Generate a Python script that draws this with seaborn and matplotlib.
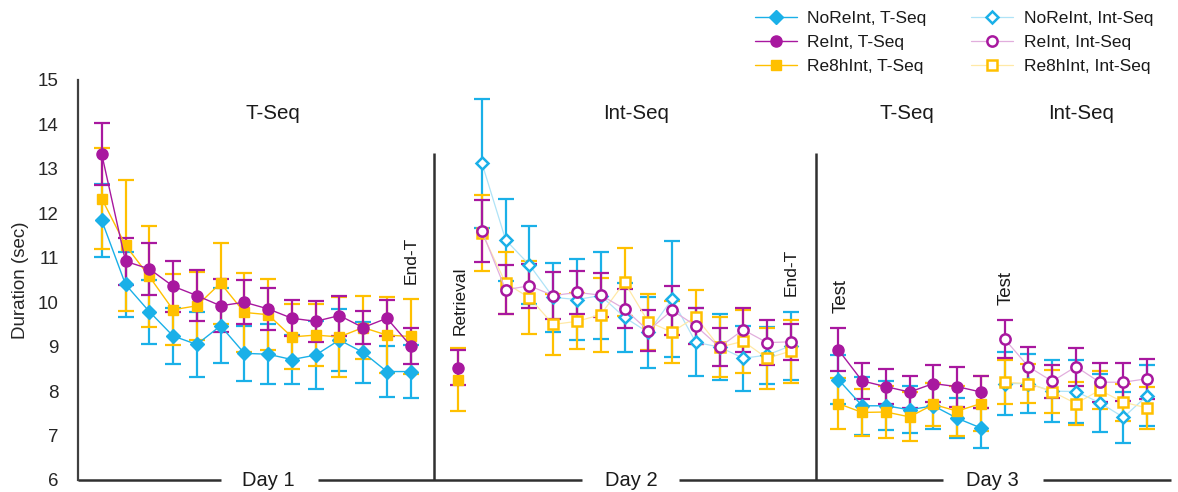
import numpy as np
import pandas as pd
import matplotlib
matplotlib.use("Agg")
import matplotlib.pyplot as plt
import seaborn as sns
from matplotlib.lines import Line2D
from matplotlib.colors import to_rgb

# ---------------- data ----------------
groups = ["NoReInt", "ReInt", "Re8hInt"]

# Day 1, T-Seq (14 trials)
d1_noreint = [11.84, 10.40, 9.79, 9.24, 9.05, 9.47, 8.85, 8.83, 8.71, 8.81, 9.15, 8.87, 8.44, 8.44]
d1_noreint_err = [0.83, 0.74, 0.72, 0.63, 0.73, 0.84, 0.62, 0.68, 0.56, 0.76, 0.70, 0.68, 0.58, 0.59]
d1_reint = [13.33, 10.92, 10.75, 10.36, 10.15, 9.92, 10.00, 9.85, 9.64, 9.57, 9.70, 9.43, 9.64, 9.02]
d1_reint_err = [0.70, 0.53, 0.58, 0.57, 0.58, 0.60, 0.50, 0.47, 0.41, 0.46, 0.45, 0.37, 0.41, 0.41]
d1_re8h = [12.33, 11.28, 10.58, 9.83, 9.92, 10.43, 9.77, 9.72, 9.22, 9.26, 9.22, 9.43, 9.26, 9.23]
d1_re8h_err = [1.14, 1.47, 1.13, 0.80, 0.77, 0.91, 0.88, 0.80, 0.73, 0.70, 0.90, 0.70, 0.85, 0.84]

# Day 2, Retrieval (single trial)
ret_reint = [8.53]
ret_reint_err = [0.40]
ret_re8h = [8.26]
ret_re8h_err = [0.71]

# Day 2, Int-Seq (14 trials)
d2_noreint = [13.13, 11.40, 10.84, 10.11, 10.06, 10.15, 9.66, 9.32, 10.07, 9.10, 8.99, 8.74, 8.81, 9.02]
d2_noreint_err = [1.45, 0.93, 0.88, 0.77, 0.91, 0.97, 0.77, 0.79, 1.30, 0.76, 0.74, 0.73, 0.64, 0.77]
d2_reint = [11.60, 10.28, 10.37, 10.15, 10.22, 10.16, 9.85, 9.36, 9.82, 9.47, 8.99, 9.38, 9.09, 9.11]
d2_reint_err = [0.70, 0.55, 0.50, 0.53, 0.49, 0.49, 0.44, 0.46, 0.55, 0.41, 0.42, 0.49, 0.50, 0.41]
d2_re8h = [11.56, 10.43, 10.10, 9.50, 9.57, 9.72, 10.45, 9.56, 9.33, 9.67, 8.99, 9.12, 8.74, 8.90]
d2_re8h_err = [0.86, 0.70, 0.82, 0.69, 0.63, 0.83, 0.77, 0.63, 0.69, 0.61, 0.67, 0.71, 0.69, 0.71]

# Day 3, T-Seq test (7 trials)
d3t_noreint = [8.26, 7.67, 7.67, 7.58, 7.67, 7.39, 7.17]
d3t_noreint_err = [0.55, 0.65, 0.55, 0.53, 0.52, 0.45, 0.44]
d3t_reint = [8.93, 8.23, 8.10, 7.98, 8.17, 8.10, 7.98]
d3t_reint_err = [0.48, 0.40, 0.40, 0.37, 0.42, 0.45, 0.37]
d3t_re8h = [7.72, 7.52, 7.53, 7.42, 7.70, 7.55, 7.72]
d3t_re8h_err = [0.57, 0.53, 0.59, 0.55, 0.49, 0.57, 0.62]

# Day 3, Int-Seq test (7 trials)
d3i_noreint = [8.17, 8.17, 8.00, 7.99, 7.74, 7.41, 7.90]
d3i_noreint_err = [0.70, 0.66, 0.69, 0.70, 0.65, 0.58, 0.68]
d3i_reint = [9.17, 8.55, 8.22, 8.55, 8.20, 8.20, 8.28]
d3i_reint_err = [0.43, 0.44, 0.37, 0.43, 0.44, 0.43, 0.45]
d3i_re8h = [8.20, 8.17, 7.99, 7.72, 8.02, 7.75, 7.62]
d3i_re8h_err = [0.50, 0.43, 0.48, 0.49, 0.43, 0.42, 0.47]

ytick_labels = ["6", "7", "8", "9", "10", "11", "12", "13", "14", "15"]
day_labels = ["Day 1", "Day 2", "Day 3"]
phase_labels = ["T-Seq", "Int-Seq", "T-Seq", "Int-Seq"]

# ---------------- layout (positions on a running trial axis) ----------------
day1_x = np.arange(0, 14)
ret_x = np.array([15])
day2_x = np.arange(16, 30)
day3t_x = np.arange(31, 38)
day3i_x = np.arange(38, 45)

colors = {"NoReInt": "#1AB0E8", "ReInt": "#A8189F", "Re8hInt": "#FFC000"}
markers = {"NoReInt": "D", "ReInt": "o", "Re8hInt": "s"}
msize = {"NoReInt": 7.0, "ReInt": 8, "Re8hInt": 7.8}


def light(c, f=0.35):
    r, g, b = to_rgb(c)
    return (1 - f + f * r, 1 - f + f * g, 1 - f + f * b)


segments = [
    (day1_x, True, {"NoReInt": (d1_noreint, d1_noreint_err),
                    "Re8hInt": (d1_re8h, d1_re8h_err),
                    "ReInt": (d1_reint, d1_reint_err)}),
    (ret_x, True, {"Re8hInt": (ret_re8h, ret_re8h_err),
                   "ReInt": (ret_reint, ret_reint_err)}),
    (day2_x, False, {"NoReInt": (d2_noreint, d2_noreint_err),
                     "Re8hInt": (d2_re8h, d2_re8h_err),
                     "ReInt": (d2_reint, d2_reint_err)}),
    (day3t_x, True, {"NoReInt": (d3t_noreint, d3t_noreint_err),
                     "Re8hInt": (d3t_re8h, d3t_re8h_err),
                     "ReInt": (d3t_reint, d3t_reint_err)}),
    (day3i_x, False, {"NoReInt": (d3i_noreint, d3i_noreint_err),
                      "Re8hInt": (d3i_re8h, d3i_re8h_err),
                      "ReInt": (d3i_reint, d3i_reint_err)}),
]

# ---------------- style ----------------
sns.set_theme(style="white")
plt.rcParams["font.family"] = ["Liberation Sans", "DejaVu Sans"]
plt.rcParams["text.color"] = "#1a1a1a"

fig = plt.figure(figsize=(11.78, 4.92), dpi=100)
ax = fig.add_axes([78 / 1178, 12 / 492, 1093 / 1178, 400 / 492])


def style_kw(g, filled):
    c = colors[g]
    return dict(color=c if filled else light(c),
                linewidth=1.0 if filled else 0.9,
                marker=markers[g],
                markersize=msize[g] if filled else msize[g] - 0.6,
                markeredgecolor=c,
                markeredgewidth=1.0 if filled else 1.8,
                markerfacecolor=c if filled else "white")


for xs, filled, series in segments:
    for g, (vals, errs) in series.items():
        c = colors[g]
        ax.errorbar(xs, vals, yerr=errs, fmt="none", ecolor=c, elinewidth=1.6,
                    capsize=6, capthick=1.6, zorder=2)
        df = pd.DataFrame({"trial": xs, "duration": vals})
        sns.lineplot(data=df, x="trial", y="duration", ax=ax,
                     zorder=3, legend=False, **style_kw(g, filled))

# axes formatting
ax.set_xlim(-1, 45)
ax.set_ylim(6, 15)
ax.set_yticks(np.arange(6, 16))
ax.set_yticklabels(ytick_labels, fontsize=13.5)
ax.tick_params(axis="y", length=0, pad=14)
ax.set_xticks([])
ax.set_xlabel("")
ax.set_ylabel("Duration (sec)", fontsize=13.5, labelpad=6)
for s in ["top", "right", "bottom"]:
    ax.spines[s].set_visible(False)
ax.spines["left"].set_color("#404040")
ax.spines["left"].set_linewidth(1.6)

# broken bottom axis with day labels
for x0, x1 in [(-1, 5.0), (9.1, 20.2), (24.3, 35.4), (39.6, 45)]:
    ax.hlines(6, x0, x1, color="#303030", linewidth=1.8, clip_on=False, zorder=1)
for lbl, xc in zip(day_labels, [7.0, 22.3, 37.5]):
    ax.text(xc, 6, lbl, ha="center", va="center", fontsize=14.5)

# day separators
for xs in [13.97, 30.05]:
    ax.vlines(xs, 6, 13.35, color="#303030", linewidth=1.8, zorder=1)

# phase titles
for lbl, xc in zip(phase_labels, [7.2, 22.5, 33.9, 41.2]):
    ax.text(xc, 14.25, lbl, ha="center", va="center", fontsize=14.8)

# rotated annotations
ax.text(13.0, 10.95, "End-T", rotation=90, ha="center", va="center", fontsize=12.5)
ax.text(29.0, 10.68, "End-T", rotation=90, ha="center", va="center", fontsize=12.5)
ax.text(15.07, 10.03, "Retrieval", rotation=90, ha="center", va="center", fontsize=12.5)
ax.text(31.1, 10.14, "Test", rotation=90, ha="center", va="center", fontsize=13.5)
ax.text(38.05, 10.33, "Test", rotation=90, ha="center", va="center", fontsize=13.5)

# legend
handles, labels = [], []
for filled, phase in [(True, "T-Seq"), (False, "Int-Seq")]:
    for g in groups:
        handles.append(Line2D([0], [0], **style_kw(g, filled)))
        labels.append(f"{g}, {phase}")
fig.legend(handles, labels, ncol=2, loc="upper left",
           bbox_to_anchor=(755 / 1178, 1 - 11 / 492), frameon=False,
           fontsize=12.5, handlelength=2.4, handletextpad=0.6,
           columnspacing=2.6, labelspacing=0.5, borderpad=0, borderaxespad=0)

fig.savefig("out.png", dpi=100)
